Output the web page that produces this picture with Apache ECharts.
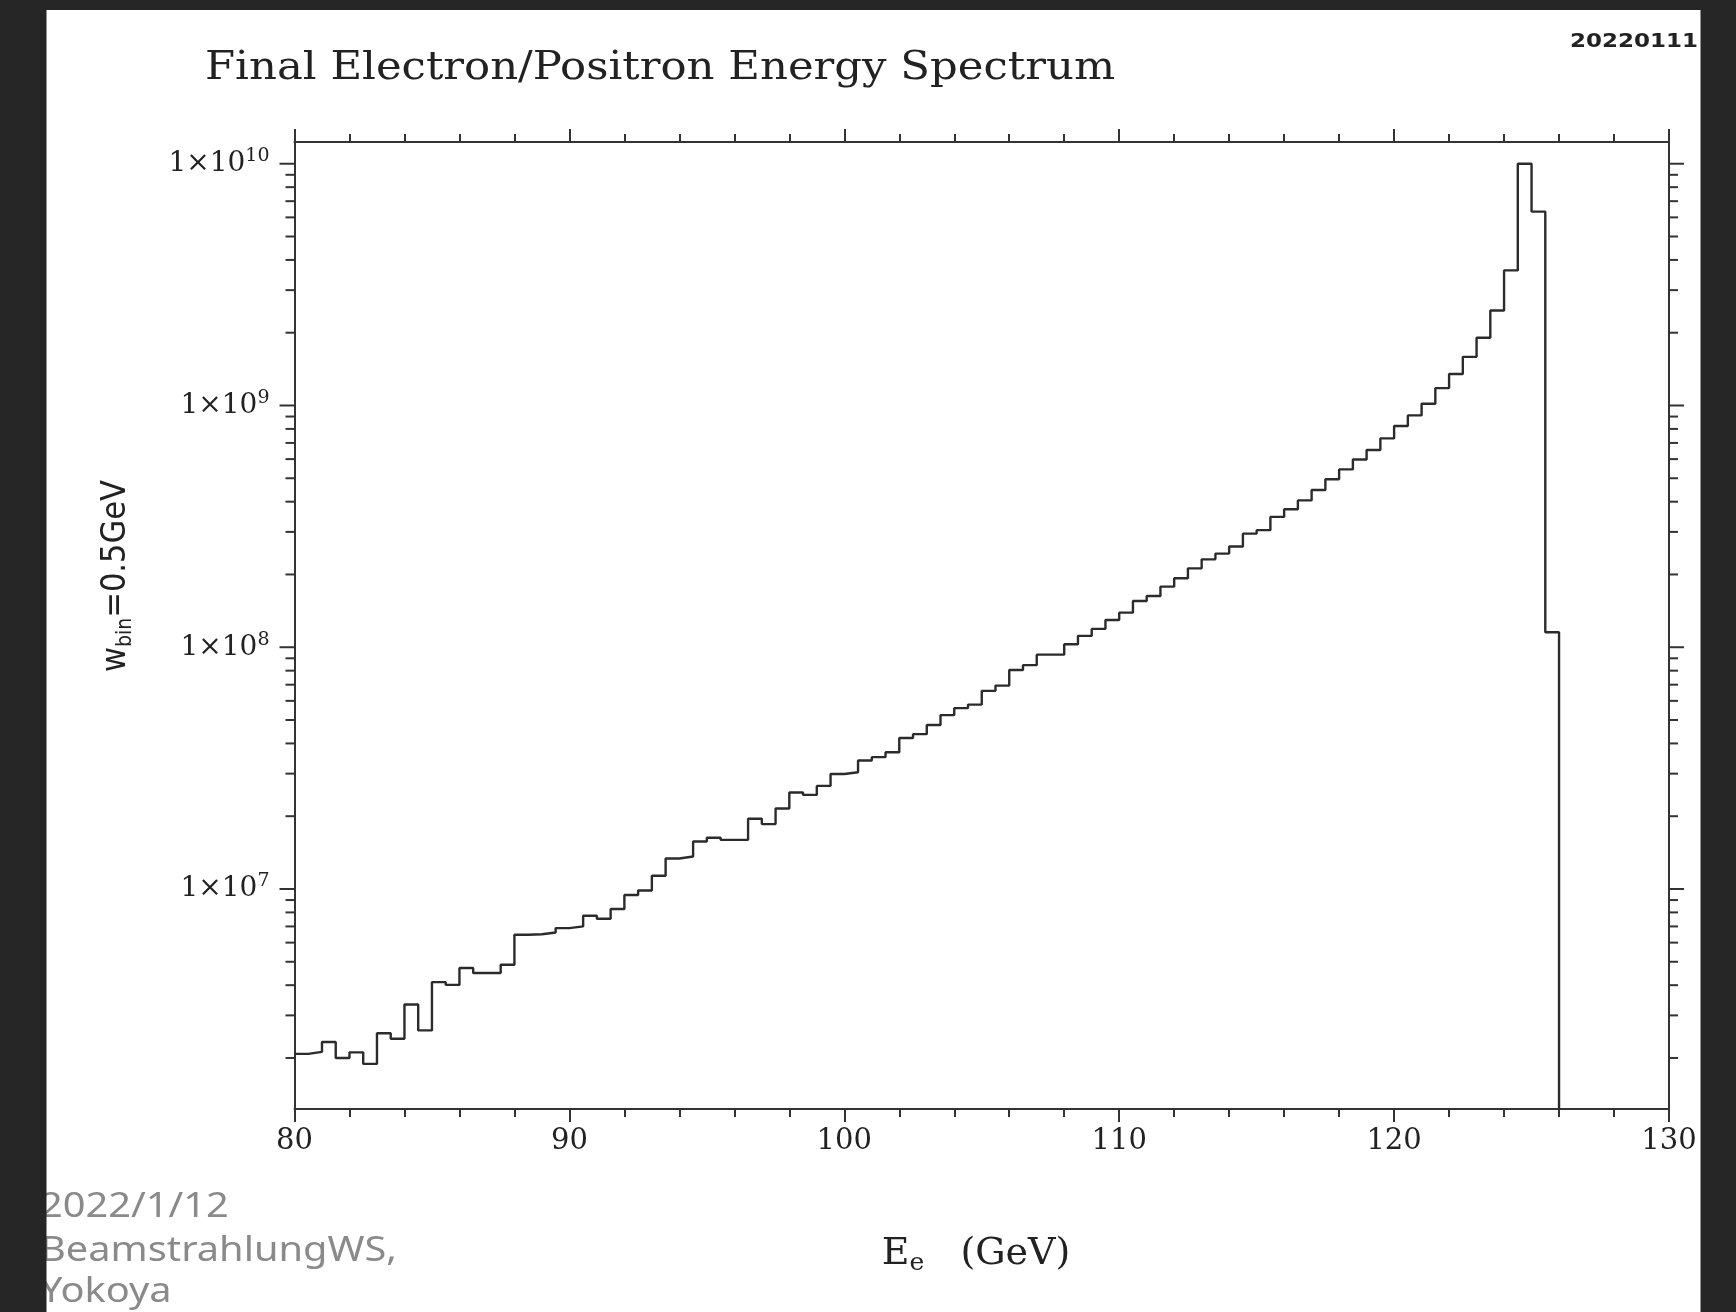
<!DOCTYPE html>
<html>
<head>
<meta charset="utf-8">
<script src="https://cdn.jsdelivr.net/npm/echarts@6/dist/echarts.min.js"></script>
<style>
html,body{margin:0;padding:0;background:#262626;}
#c{width:1736px;height:1312px;}
</style>
</head>
<body>
<div id="c"></div>
<script>
// ---------------- data ----------------
const binLowEdges = [
  80, 80.5, 81, 81.5, 82, 82.5, 83, 83.5, 84, 84.5,
  85, 85.5, 86, 86.5, 87, 87.5, 88, 88.5, 89, 89.5,
  90, 90.5, 91, 91.5, 92, 92.5, 93, 93.5, 94, 94.5,
  95, 95.5, 96, 96.5, 97, 97.5, 98, 98.5, 99, 99.5,
  100, 100.5, 101, 101.5, 102, 102.5, 103, 103.5, 104, 104.5,
  105, 105.5, 106, 106.5, 107, 107.5, 108, 108.5, 109, 109.5,
  110, 110.5, 111, 111.5, 112, 112.5, 113, 113.5, 114, 114.5,
  115, 115.5, 116, 116.5, 117, 117.5, 118, 118.5, 119, 119.5,
  120, 120.5, 121, 121.5, 122, 122.5, 123, 123.5, 124, 124.5,
  125, 125.5
];
const binUpperEnd = 126;
const counts = [
  2.08e6, 2.12e6, 2.33e6, 2.00e6, 2.11e6, 1.89e6, 2.53e6, 2.40e6, 3.33e6, 2.60e6,
  4.12e6, 4.01e6, 4.71e6, 4.49e6, 4.49e6, 4.86e6, 6.47e6, 6.50e6, 6.61e6, 6.89e6,
  7.00e6, 7.75e6, 7.53e6, 8.26e6, 9.44e6, 9.86e6, 1.134e7, 1.337e7, 1.362e7, 1.572e7,
  1.629e7, 1.597e7, 1.597e7, 1.951e7, 1.855e7, 2.152e7, 2.507e7, 2.45e7, 2.67e7, 2.99e7,
  3.04e7, 3.40e7, 3.51e7, 3.68e7, 4.21e7, 4.37e7, 4.77e7, 5.24e7, 5.60e7, 5.79e7,
  6.60e7, 6.94e7, 8.05e7, 8.43e7, 9.32e7, 9.32e7, 1.029e8, 1.114e8, 1.191e8, 1.297e8,
  1.390e8, 1.553e8, 1.629e8, 1.781e8, 1.928e8, 2.12e8, 2.31e8, 2.44e8, 2.61e8, 2.95e8,
  3.05e8, 3.46e8, 3.72e8, 4.05e8, 4.47e8, 4.95e8, 5.44e8, 5.98e8, 6.54e8, 7.31e8,
  8.22e8, 9.10e8, 1.016e9, 1.180e9, 1.349e9, 1.589e9, 1.905e9, 2.47e9, 3.62e9, 1.0e10,
  6.34e9, 1.153e8
];
const xMin = 80, xMax = 130, xStep = 10;
const yMin = 1.23e6, yMax = 1.23e10;
const yMajorTicks = [1e7, 1e8, 1e9, 1e10];
const yDecades = [1e6, 1e7, 1e8, 1e9, 1e10];
const yMinorMultipliers = [2, 3, 4, 5, 6, 7, 8, 9];

const titleText = 'Final Electron/Positron Energy Spectrum';
const stampText = '20220111';
const noteLines = ['2022/1/12', 'BeamstrahlungWS,', 'Yokoya'];

// ---------------- build ----------------
const histData = binLowEdges.map((x, i) => [x, counts[i]]);
histData.push([binUpperEnd, yMin]);

const tickData = [];
[xMin, xMax].forEach(side => {
  yMajorTicks.forEach(v => tickData.push([side, v, 1]));
  yDecades.forEach(d => yMinorMultipliers.forEach(m => {
    const v = d * m;
    if (v > yMin && v < yMax) tickData.push([side, v, 0]);
  }));
});

function fitScale(text, font, target) {
  const ctx = document.createElement('canvas').getContext('2d');
  ctx.font = font;
  return target / ctx.measureText(text).width;
}

const AX = '#333';
const titleFont = '40px "DejaVu Serif"';
const stampFont = 'bold 19px "DejaVu Sans"';
const noteFont = '35px "Noto Sans"';
const noteScale = fitScale(noteLines[1], noteFont, 357);

const chart = echarts.init(document.getElementById('c'), null, {renderer: 'canvas'});

const xAxisCommon = {
  type: 'value', min: xMin, max: xMax, interval: xStep,
  axisLine: {show: true, onZero: false, lineStyle: {color: AX, width: 2}},
  axisTick: {show: true, inside: false, length: 13, lineStyle: {color: AX, width: 2}},
  minorTick: {show: true, splitNumber: 5, length: 8, lineStyle: {color: AX, width: 2}},
  splitLine: {show: false}, minorSplitLine: {show: false}
};
const yAxisCommon = {
  type: 'log', logBase: 10, min: yMin, max: yMax,
  axisLine: {show: true, onZero: false, lineStyle: {color: AX, width: 2}},
  axisTick: {show: false}, minorTick: {show: false},
  splitLine: {show: false}, minorSplitLine: {show: false}
};

const noteItem = (t, y) => ({
  type: 'text', x: 40, y: y, z: 50, scaleX: noteScale,
  style: {text: t, font: noteFont, fill: '#8a8a8a', align: 'left', verticalAlign: 'middle', textAlign: 'left', textVerticalAlign: 'middle'}
});

chart.setOption({
  animation: false,
  backgroundColor: '#ffffff',
  grid: {left: 294.5, right: 67, top: 142, bottom: 203, containLabel: false},
  xAxis: [
    Object.assign({}, xAxisCommon, {
      position: 'bottom',
      axisLabel: {show: true, margin: 18, color: '#222', fontFamily: 'DejaVu Serif', fontSize: 29}
    }),
    Object.assign({}, xAxisCommon, {position: 'top', axisLabel: {show: false}})
  ],
  yAxis: [
    Object.assign({}, yAxisCommon, {
      position: 'left',
      axisLabel: {
        show: true, margin: 25, showMinLabel: false, showMaxLabel: false,
        formatter: function (v) {
          const e = Math.log10(v);
          const r = Math.round(e);
          if (Math.abs(e - r) > 0.01) return '';
          return '{b|1×10}{s|' + r + '}';
        },
        rich: {
          b: {fontFamily: 'DejaVu Serif', fontSize: 28, color: '#222', lineHeight: 34},
          s: {fontFamily: 'DejaVu Serif', fontSize: 19, color: '#222', lineHeight: 19, verticalAlign: 'top'}
        }
      }
    }),
    Object.assign({}, yAxisCommon, {position: 'right', axisLabel: {show: false}})
  ],
  graphic: [
    {type: 'text', x: 205, y: 69, z: 50, scaleX: fitScale(titleText, titleFont, 910),
     style: {text: titleText, font: titleFont, fill: '#222', align: 'left', verticalAlign: 'middle', textAlign: 'left', textVerticalAlign: 'middle'}},
    {type: 'text', x: 1570, y: 42, z: 50, scaleX: fitScale(stampText, stampFont, 128),
     style: {text: stampText, font: stampFont, fill: '#222', align: 'left', verticalAlign: 'middle', textAlign: 'left', textVerticalAlign: 'middle'}},
    {type: 'text', x: 116, y: 576, z: 50, rotation: Math.PI / 2,
     style: {
       text: '{a|w}{b|bin}{a|=0.5GeV}',
       align: 'center', verticalAlign: 'middle', textAlign: 'center', textVerticalAlign: 'middle',
       rich: {
         a: {fontFamily: 'DejaVu Sans Condensed', fontSize: 34, fill: '#222', color: '#222', lineHeight: 40},
         b: {fontFamily: 'DejaVu Sans Condensed', fontSize: 21, fill: '#222', color: '#222', lineHeight: 21, verticalAlign: 'bottom'}
       }
     }},
    {type: 'text', x: 976, y: 1254, z: 50,
     style: {
       text: '{a|E}{b|e}{a|   (GeV)}',
       align: 'center', verticalAlign: 'middle', textAlign: 'center', textVerticalAlign: 'middle',
       rich: {
         a: {fontFamily: 'DejaVu Serif', fontSize: 38, fill: '#222', color: '#222', lineHeight: 44},
         b: {fontFamily: 'DejaVu Serif', fontSize: 25, fill: '#222', color: '#222', lineHeight: 25, verticalAlign: 'bottom'}
       }
     }},
    noteItem(noteLines[0], 1207),
    noteItem(noteLines[1], 1251),
    noteItem(noteLines[2], 1292),
    // dark frame around the white panel
    {type: 'rect', z: 100, shape: {x: 0, y: 0, width: 46.5, height: 1312}, style: {fill: '#262626'}},
    {type: 'rect', z: 100, shape: {x: 0, y: 0, width: 1736, height: 10}, style: {fill: '#262626'}},
    {type: 'rect', z: 100, shape: {x: 1700.5, y: 0, width: 35.5, height: 1312}, style: {fill: '#262626'}}
  ],
  series: [
    {
      type: 'line', xAxisIndex: 0, yAxisIndex: 0,
      data: histData, step: 'end', symbol: 'none', showSymbol: false,
      lineStyle: {color: '#2b2b2b', width: 2.4}, clip: true, silent: true
    },
    {
      type: 'custom', xAxisIndex: 0, yAxisIndex: 0, clip: false, silent: true,
      data: tickData, encode: {x: 0, y: 1},
      renderItem: function (params, api) {
        const side = api.value(0), v = api.value(1), major = api.value(2);
        const p = api.coord([side, v]);
        const len = major ? 15 : 9;
        const x2 = side === xMax ? p[0] + len : p[0] - len;
        return {type: 'line', shape: {x1: p[0], y1: p[1], x2: x2, y2: p[1]}, style: {stroke: AX, lineWidth: 2}};
      }
    }
  ]
});
</script>
</body>
</html>
